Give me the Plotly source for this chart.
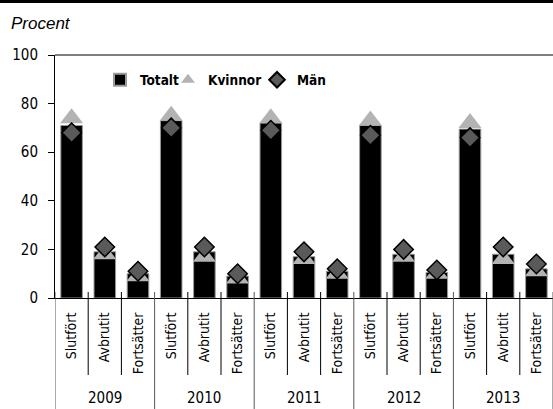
import plotly.graph_objects as go

years = ["2009", "2010", "2011", "2012", "2013"]
cats = ["Slutfört", "Avbrutit", "Fortsätter"]
totalt = [71, 19, 10, 73, 19, 9, 72, 17, 11, 71, 18, 10.5, 69.5, 18, 12]
kvinnor = [74, 18, 9, 75, 17, 8, 74, 16, 10, 73, 17, 10, 72, 16, 11]
man = [68, 21, 11, 70, 21, 10, 69, 19, 12, 67, 20, 11.5, 66, 21, 14]
yticks = [0, 20, 40, 60, 80, 100]

W, H = 553, 409
ML, MR, MT, MB = 55, 0, 55, 111
PW, PH = W - ML - MR, H - MT - MB
FONT = "DejaVu Sans Condensed, Liberation Sans Narrow, Arial Narrow, sans-serif"

n = len(years) * len(cats)
xs = list(range(n))
ticktext = [c for _ in years for c in cats]

fig = go.Figure()
fig.add_trace(go.Bar(x=xs, y=totalt, name="Totalt", legend="legend",
                     marker=dict(color="black", line=dict(color="#9a9a9a", width=1))))
fig.add_trace(go.Scatter(x=xs, y=kvinnor, name="Kvinnor", mode="markers", legend="legend2",
                         marker=dict(symbol="triangle-up", size=20, color="#b3b3b3",
                                     line=dict(width=0))))
fig.add_trace(go.Scatter(x=xs, y=man, name="Män", mode="markers", legend="legend3",
                         marker=dict(symbol="diamond", size=15, color="#5a5a5a",
                                     line=dict(color="black", width=1.5))))

shapes = []
for b in range(n + 1):
    xb = b - 0.5
    group = (b % len(cats) == 0)
    shapes.append(dict(type="line", xref="x", yref="paper", ysizemode="pixel", yanchor=0,
                       x0=xb, x1=xb, y0=6, y1=(-MB if group else -77),
                       line=dict(color="#555555" if group else "black", width=1)))
shapes.append(dict(type="line", xref="paper", yref="paper", x0=0, x1=1, y0=1, y1=1,
                   line=dict(color="black", width=1)))
shapes.append(dict(type="rect", xref="paper", yref="paper", ysizemode="pixel", yanchor=1,
                   x0=-ML / PW - 0.01, x1=1.01, y0=MT + 5, y1=MT - 3,
                   line=dict(width=0), fillcolor="black", layer="above"))

annotations = []
for i, yr in enumerate(years):
    annotations.append(dict(x=i * len(cats) + (len(cats) - 1) / 2, y=0, xref="x", yref="paper",
                            yshift=-100, text=yr, showarrow=False, yanchor="middle",
                            font=dict(family=FONT, size=15, color="black")))
annotations.append(dict(x=0, y=1, xref="paper", yref="paper", xshift=-ML + 9, yshift=MT - 23,
                        text="<i>Procent</i>", showarrow=False, xanchor="left", yanchor="middle",
                        font=dict(family="Liberation Sans, Arial, sans-serif", size=17, color="black")))


def leg(xpix):
    return dict(orientation="h", x=(xpix - ML) / PW, y=(PH - (80 - MT)) / PH,
                xanchor="left", yanchor="middle", itemsizing="constant",
                font=dict(family=FONT, size=13.5, color="black", weight="bold"),
                bgcolor="rgba(0,0,0,0)", borderwidth=0)


fig.update_layout(
    width=W, height=H,
    margin=dict(l=ML, r=MR, t=MT, b=MB),
    paper_bgcolor="white", plot_bgcolor="white",
    bargap=0.35,
    showlegend=True,
    legend=leg(100), legend2=leg(168), legend3=leg(257),
    shapes=shapes,
    annotations=annotations,
    xaxis=dict(range=[-0.5, n - 0.5], tickmode="array", tickvals=xs, ticktext=ticktext,
               tickangle=-90, ticks="", showline=True, linecolor="black", linewidth=1,
               showgrid=False, zeroline=False, ticklabelstandoff=8,
               tickfont=dict(family=FONT, size=14, color="black")),
    yaxis=dict(range=[0, 100], tickmode="array", tickvals=yticks, ticks="outside", ticklen=6,
               tickcolor="black", showline=True, linecolor="black", linewidth=1,
               showgrid=False, zeroline=False, ticklabelstandoff=7,
               tickfont=dict(family=FONT, size=15, color="black")),
)

fig.write_html("out.html", config={"displayModeBar": False},
               post_script="document.body.style.margin='0px';")
